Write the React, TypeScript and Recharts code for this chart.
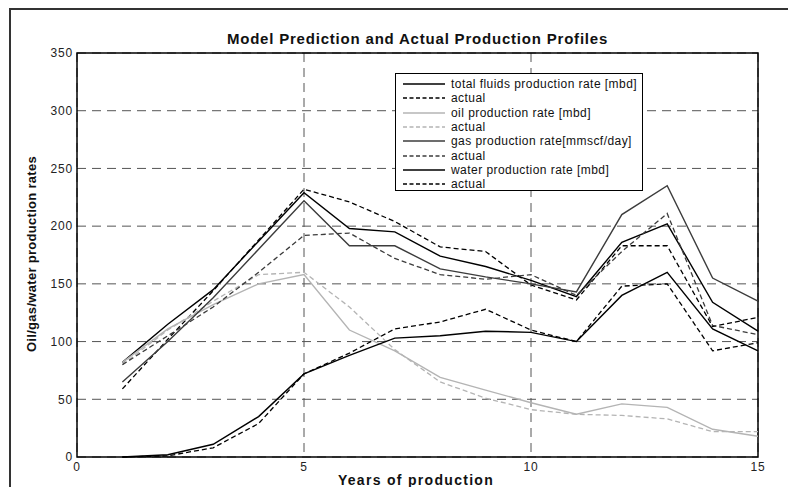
import { LineChart, Line, XAxis, YAxis, CartesianGrid, Legend, Label, ReferenceArea } from 'recharts';

const years = [1, 2, 3, 4, 5, 6, 7, 8, 9, 10, 11, 12, 13, 14, 15];
const totalModel = [82, 115, 145, 187, 229, 198, 195, 174, 165, 153, 139, 186, 202, 134, 109];
const totalActual = [59, 102, 144, 188, 232, 221, 204, 182, 178, 149, 136, 183, 183, 113, 121];
const oilModel = [82, 111, 132, 150, 158, 110, 92, 69, 58, 47, 37, 46, 43, 24, 18];
const oilActual = [80, 110, 135, 158, 160, 130, 93, 65, 51, 41, 37, 36, 33, 22, 22];
const gasModel = [65, 100, 138, 180, 222, 183, 183, 163, 156, 150, 143, 210, 235, 155, 135];
const gasActual = [80, 105, 130, 160, 192, 194, 172, 158, 154, 158, 140, 178, 211, 114, 106];
const waterModel = [0, 2, 11, 35, 72, 88, 103, 105, 109, 108, 100, 140, 160, 111, 92];
const waterActual = [0, 1, 8, 29, 72, 90, 111, 117, 128, 110, 100, 148, 150, 92, 99];

const xTicks = [0, 5, 10, 15];
const yTicks = [0, 50, 100, 150, 200, 250, 300, 350];

const rows = years.map((year, i) => ({
  year,
  totalModel: totalModel[i],
  totalActual: totalActual[i],
  oilModel: oilModel[i],
  oilActual: oilActual[i],
  gasModel: gasModel[i],
  gasActual: gasActual[i],
  waterModel: waterModel[i],
  waterActual: waterActual[i],
}));

const series = [
  { key: 'totalModel', name: 'total fluids production rate [mbd]', color: '#000000', dashed: false },
  { key: 'totalActual', name: 'actual', color: '#000000', dashed: true },
  { key: 'oilModel', name: 'oil production rate [mbd]', color: '#b4b4b4', dashed: false },
  { key: 'oilActual', name: 'actual', color: '#b4b4b4', dashed: true },
  { key: 'gasModel', name: 'gas production rate[mmscf/day]', color: '#3c3c3c', dashed: false },
  { key: 'gasActual', name: 'actual', color: '#3c3c3c', dashed: true },
  { key: 'waterModel', name: 'water production rate [mbd]', color: '#000000', dashed: false },
  { key: 'waterActual', name: 'actual', color: '#000000', dashed: true },
];

const font = '"Liberation Sans", Arial, sans-serif';

function LegendBox() {
  return (
    <div
      style={{
        width: 248,
        height: 118,
        boxSizing: 'border-box',
        border: '1.5px solid #000',
        background: '#fff',
        padding: '3px 0 0 7px',
        fontFamily: font,
        fontSize: 12,
        color: '#111',
      }}
    >
      {series.map((s) => (
        <div key={s.key} style={{ display: 'flex', alignItems: 'center', height: 14.3, whiteSpace: 'nowrap' }}>
          <svg width={42} height={4} style={{ flex: 'none' }}>
            <line x1={0} y1={2} x2={42} y2={2} stroke={s.color} strokeWidth={1.6} strokeDasharray={s.dashed ? '4 2.5' : undefined} />
          </svg>
          <span style={{ marginLeft: 6, letterSpacing: 0.45 }}>{s.name}</span>
        </div>
      ))}
    </div>
  );
}

export default function App() {
  return (
    <div style={{ position: 'relative', width: 788, height: 479, overflow: 'hidden', fontFamily: font }}>
      <div style={{ position: 'absolute', left: 1, top: 0, width: 900, height: 600, border: '2px solid #333' }} />
      <div style={{ position: 'absolute', left: -8, top: -8, width: 796, height: 487 }}>
        <div
          style={{
            position: 'absolute',
            left: 77,
            top: 30,
            width: 681,
            textAlign: 'center',
            fontSize: 15,
            letterSpacing: 0.8,
            fontWeight: 'bold',
            color: '#111',
            zIndex: 1,
          }}
        >
          Model Prediction and Actual Production Profiles
        </div>
        <LineChart width={796} height={487} data={rows} margin={{ top: 53, right: 38, bottom: 0, left: 37 }}>
          <CartesianGrid stroke="#555" strokeDasharray="9 6" />
          <XAxis
            dataKey="year"
            type="number"
            domain={[0, 15]}
            ticks={xTicks}
            height={30}
            axisLine={false}
            tickLine={false}
            tickSize={5}
            tickMargin={0}
            tick={{ fontSize: 12, fill: '#222', fontFamily: font, letterSpacing: 0.8 }}
          >
            <Label
              content={() => (
                <text x={416} y={485} textAnchor="middle" fontSize={14} letterSpacing={1.3} fontWeight="bold" fill="#111" fontFamily={font}>
                  Years of production
                </text>
              )}
            />
          </XAxis>
          <YAxis
            type="number"
            domain={[0, 350]}
            ticks={yTicks}
            width={40}
            axisLine={false}
            tickLine={false}
            tickSize={4}
            tickMargin={0}
            tick={{ fontSize: 12, fill: '#222', fontFamily: font, letterSpacing: 0.8 }}
          >
            <Label
              content={() => (
                <text
                  x={31}
                  y={254}
                  transform="rotate(-90 31 254)"
                  textAnchor="middle"
                  dominantBaseline="central"
                  fontSize={13}
                  letterSpacing={0.3}
                  fontWeight="bold"
                  fill="#111"
                  fontFamily={font}
                >
                  Oil/gas/water production rates
                </text>
              )}
            />
          </YAxis>
          <ReferenceArea x1={0} x2={15} y1={0} y2={350} fill="none" stroke="#000" strokeWidth={1.5} ifOverflow="visible" />
          {series.map((s) => (
            <Line
              key={s.key}
              dataKey={s.key}
              name={s.name}
              stroke={s.color}
              strokeWidth={s.dashed ? 1.3 : 1.4}
              strokeDasharray={s.dashed ? '5 3' : undefined}
              dot={false}
              activeDot={false}
              isAnimationActive={false}
            />
          ))}
          <Legend
            layout="vertical"
            align="center"
            verticalAlign="middle"
            content={() => <LegendBox />}
            wrapperStyle={{ left: 395, top: 73, width: 248, height: 118 }}
          />
        </LineChart>
      </div>
    </div>
  );
}
